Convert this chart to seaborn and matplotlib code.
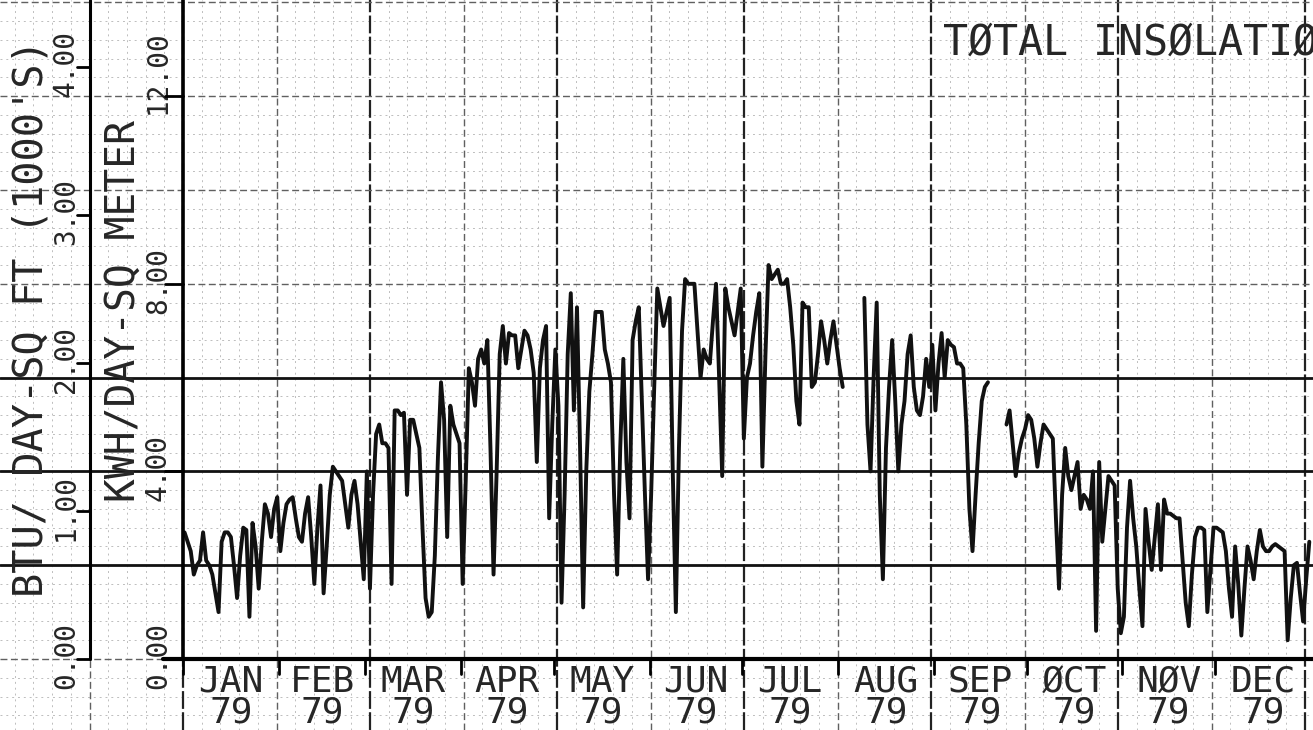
import seaborn as sns
import matplotlib.pyplot as plt
import pandas as pd
import numpy as np

nan = np.nan

# daily total insolation, KWH/DAY-SQ METER, 1979 (NaN = no data)
jan = [2.7, 2.5, 2.3, 1.8, 2.0, 2.1, 2.7, 2.1, 2.0, 1.8, 1.4, 1.0, 2.5, 2.7, 2.7, 2.6,
       2.0, 1.3, 2.2, 2.8, 2.75, 0.9, 2.9, 2.4, 1.5, 2.5, 3.3, 3.1, 2.6, 3.2, 3.45]
feb = [2.3, 2.9, 3.3, 3.4, 3.45, 3.0, 2.6, 2.5, 3.1, 3.45, 2.6, 1.6, 2.8, 3.7, 1.4,
       2.4, 3.5, 4.1, 4.0, 3.9, 3.8, 3.3, 2.8, 3.5, 3.8, 3.3, 2.5, 1.7]
mar = [4.0, 1.5, 3.5, 4.8, 5.0, 4.6, 4.6, 4.5, 1.6, 5.3, 5.3, 5.2, 5.25, 3.5, 5.1, 5.1,
       4.8, 4.5, 2.8, 1.3, 0.9, 1.0, 2.2, 4.3, 5.9, 5.1, 2.6, 5.4, 5.0, 4.8, 4.6]
apr = [1.6, 3.8, 6.2, 5.9, 5.4, 6.4, 6.6, 6.3, 6.8, 4.5, 1.8, 4.0, 6.5, 7.1, 6.3,
       6.95, 6.9, 6.9, 6.2, 6.6, 7.0, 6.9, 6.6, 6.1, 4.2, 6.2, 6.8, 7.1, 3.0, 5.0]
may = [6.6, 5.4, 1.2, 3.5, 6.5, 7.8, 5.3, 7.5, 4.5, 1.1, 4.0, 5.7, 6.5, 7.4, 7.4, 7.4,
       6.6, 6.3, 5.9, 3.5, 1.8, 4.5, 6.4, 4.2, 3.0, 6.8, 7.2, 7.5, 5.5, 3.5, 1.7]
jun = [3.5, 5.8, 7.9, 7.5, 7.1, 7.4, 7.7, 4.0, 1.0, 4.5, 7.0, 8.1, 8.0, 8.0, 8.0,
       7.0, 6.0, 6.6, 6.4, 6.3, 7.2, 8.0, 6.0, 3.9, 7.9, 7.5, 7.2, 6.9, 7.4, 7.9]
jul = [4.7, 6.0, 6.3, 6.9, 7.4, 7.8, 4.1, 6.5, 8.4, 8.1, 8.2, 8.3, 8.0, 8.0, 8.1, 7.5,
       6.7, 5.5, 5.0, 7.6, 7.5, 7.5, 5.8, 5.9, 6.5, 7.2, 6.8, 6.3, 6.8, 7.2, 6.7]
aug = [6.2, 5.8, nan, nan, nan, nan, nan, nan, 7.7, 5.0, 4.0, 6.0, 7.6, 3.5, 1.7, 4.5,
       5.8, 6.8, 5.5, 4.0, 5.0, 5.5, 6.5, 6.9, 5.8, 5.3, 5.2, 5.6, 6.4, 5.8, 6.7]
sep = [5.3, 6.3, 6.95, 6.0, 6.8, 6.7, 6.65, 6.3, 6.3, 6.2, 5.0, 3.2, 2.3, 3.5, 4.6,
       5.5, 5.8, 5.9, nan, nan, nan, nan, nan, 5.0, 5.3, 4.6, 3.9, 4.4, 4.7, 4.9]
oct_ = [5.2, 5.1, 4.7, 4.1, 4.6, 5.0, 4.9, 4.8, 4.7, 3.0, 1.5, 3.5, 4.5, 3.9, 3.6, 3.9,
        4.2, 3.2, 3.5, 3.4, 3.2, 4.0, 0.6, 4.2, 2.5, 3.2, 3.9, 3.8, 3.7, 1.5, 0.55]
nov = [0.9, 2.8, 3.8, 3.0, 2.4, 1.5, 0.7, 3.2, 2.5, 1.9, 2.6, 3.3, 1.9, 3.4, 3.1,
       3.1, 3.05, 3.0, 3.0, 2.1, 1.2, 0.7, 1.8, 2.6, 2.8, 2.8, 2.75, 1.0, 1.9, 2.8]
dec = [2.8, 2.75, 2.7, 2.3, 1.5, 0.9, 2.4, 1.6, 0.5, 1.5, 2.4, 2.1, 1.7, 2.3, 2.75,
       2.4, 2.3, 2.3, 2.4, 2.45, 2.4, 2.35, 2.3, 0.4, 1.3, 2.0, 2.05, 1.4, 0.8, 1.7, 2.5]

month_names = ['JAN', 'FEB', 'MAR', 'APR', 'MAY', 'JUN',
               'JUL', 'AUG', 'SEP', 'ØCT', 'NØV', 'DEC']
month_days = [31, 28, 31, 30, 31, 30, 31, 31, 30, 31, 30, 31]
year_label = '79'
kwh_ticks = [0, 4, 8, 12]
btu_ticks = [0, 1, 2, 3, 4]
BTU_TO_KWH = 3.1546  # 1000 BTU/ft2 -> kWh/m2

values = np.array(jan + feb + mar + apr + may + jun + jul + aug + sep + oct_ + nov + dec)
df = pd.DataFrame({'day': np.arange(len(values)) + 0.5, 'kwh': values})
df['seg'] = df['kwh'].isna().cumsum()
df = df.dropna()

# pixel geometry of the scanned sheet
W, H = 1313, 730
X0, Y0 = 183, 659          # origin (Jan 1, 0 KWH)
PX_DAY, PX_KWH = 3.09, 46.9


def fx(px):
    return (px - X0) / PX_DAY


def fy(py):
    return (Y0 - py) / PX_KWH


sns.set_style('white')
plt.rcParams['font.family'] = ['DejaVu Sans Mono']

fig = plt.figure(figsize=(W / 100, H / 100), dpi=100)
ax = fig.add_axes([0, 0, 1, 1])
ax.set_xlim(fx(0), fx(W))
ax.set_ylim(fy(H), fy(0))
ax.axis('off')

# graph paper
cell_x = 18.7 / PX_DAY
for i in range(-10, 62):
    x = i * cell_x
    if i % 10 == 0:
        ax.axvline(x, color='#222222', lw=1.6, ls=(0, (8, 1.5)), zorder=1)
    elif i % 5 == 0:
        ax.axvline(x, color='#606060', lw=1.0, ls=(0, (5, 2.5)), zorder=1)
    else:
        ax.axvline(x, color='#bdbdbd', lw=0.7, ls=(0, (2, 4)), zorder=0)
for j in range(-4, 36):
    y = j * 0.4
    if j in (5, 10, 15):
        ax.axhline(y, color='#111111', lw=2.0, zorder=1)
    elif j % 5 == 0:
        ax.axhline(y, color='#606060', lw=1.0, ls=(0, (5, 2.5)), zorder=1)
    else:
        ax.axhline(y, color='#bdbdbd', lw=0.7, ls=(0, (2, 4)), zorder=0)

# data
sns.lineplot(data=df, x='day', y='kwh', units='seg', estimator=None,
             color='#111111', lw=2.8, ax=ax, legend=False, zorder=3)

# axes lines
ax.plot([fx(163), fx(W)], [0, 0], color='black', lw=3, zorder=4)
ax.plot([0, 0], [0, fy(0)], color='black', lw=2.6, zorder=4)
ax.plot([fx(90), fx(90)], [0, fy(0)], color='black', lw=2.2, zorder=4)

for t in kwh_ticks:
    ax.plot([fx(165), 0], [t, t], color='black', lw=2, zorder=4)
    off = 0.64 if t < 10 else 0.38
    ax.text(fx(166), t - off, f'{t:.2f}', rotation=90, rotation_mode='anchor',
            ha='left', va='baseline', fontsize=20)
for b in btu_ticks:
    y = b * BTU_TO_KWH
    ax.plot([fx(77), fx(90)], [y, y], color='black', lw=2, zorder=4)
    ax.text(fx(74), y - 0.64, f'{b:.2f}', rotation=90, rotation_mode='anchor',
            ha='left', va='baseline', fontsize=20)

ax.text(fx(43), fy(597), "BTU/ DAY-SQ FT (1000'S)", rotation=90,
        rotation_mode='anchor', ha='left', va='baseline', fontsize=29)
ax.text(fx(135), fy(502), 'KWH/DAY-SQ METER', rotation=90,
        rotation_mode='anchor', ha='left', va='baseline', fontsize=28.5)

# month ticks and labels
start = 0
for name, n in zip(month_names, month_days):
    ax.plot([start, start], [0, fy(674)], color='black', lw=2, zorder=4)
    mid = start + n / 2
    ax.text(mid, fy(665), f'{name}\n{year_label}', ha='center', va='top',
            fontsize=26, linespacing=0.86)
    start += n

ax.text(fx(943), fy(55), 'TØTAL INSØLATIØN', ha='left', va='baseline', fontsize=30)

fig.savefig('out.png', dpi=100)
